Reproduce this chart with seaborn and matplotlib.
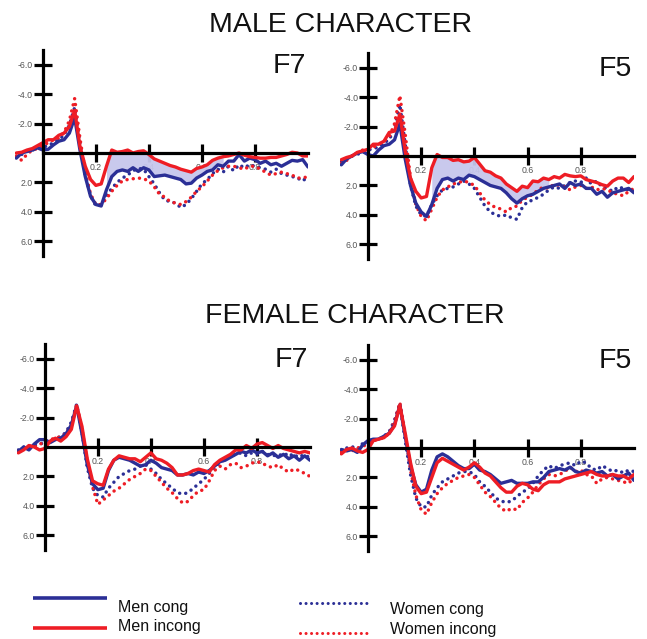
import numpy as np
import matplotlib
matplotlib.use("Agg")
import matplotlib.pyplot as plt
from matplotlib.lines import Line2D
import seaborn as sns

sns.set_theme(style="white")
plt.rcParams['font.family'] = ['Liberation Sans', 'DejaVu Sans']

# ---------------- data ----------------
TIME = np.round(np.arange(-0.10, 1.0001, 0.02), 2)   # seconds, 56 samples

Y_TICKS = [-6, -4, -2, 2, 4, 6]
Y_TICK_LABELS = ["-6.0", "-4.0", "-2.0", "2.0", "4.0", "6.0"]
X_TICKS = [0.2, 0.4, 0.6, 0.8]
X_TICK_LABELS = ["0.2", "0.4", "0.6", "0.8"]

SECTION_TITLES = ["MALE CHARACTER", "FEMALE CHARACTER"]
ELECTRODES = ["F7", "F5"]
SERIES_NAMES = ["Men cong", "Men incong", "Women cong", "Women incong"]
FILL_WINDOW = (0.24, 0.68)

# MALE CHARACTER, F7
M_F7_MEN_CONG = [0.35, 0.0, -0.1, -0.2, -0.35, -0.2, -0.25, -0.55, -0.8, -0.9, -1.35, -2.4, -0.2, 1.6,
                 2.95, 3.5, 3.6, 2.5, 1.6, 1.25, 1.15, 1.25, 1.0, 1.25, 1.0, 1.15, 1.6, 1.55, 1.5, 1.6,
                 1.7, 1.8, 2.1, 2.05, 1.7, 1.5, 1.25, 1.15, 0.8, 0.9, 0.55, 0.55, 0.1, 0.55, 0.35, 0.45,
                 0.7, 0.55, 0.8, 0.7, 0.9, 0.7, 0.5, 0.55, 0.45, 0.95]
M_F7_MEN_INCONG = [0.0, -0.05, -0.2, -0.3, -0.5, -0.7, -0.9, -0.9, -1.2, -1.35, -1.8, -2.9, -0.45, 0.9,
                   1.8, 2.2, 2.1, 0.9, -0.2, -0.05, -0.1, -0.2, 0.0, -0.1, -0.15, 0.1, 0.4, 0.55, 0.7,
                   0.85, 0.95, 1.1, 1.2, 1.3, 1.05, 0.95, 0.8, 0.5, 0.35, 0.25, 0.2, 0.1, 0.0, 0.15, 0.25,
                   0.3, 0.35, 0.35, 0.3, 0.3, 0.2, 0.1, -0.05, 0.0, 0.2, 0.2]
M_F7_WOMEN_CONG = [0.3, 0.1, -0.1, -0.2, -0.3, -0.4, -0.5, -0.7, -0.9, -1.2, -1.9, -3.1, -0.6, 1.5,
                   2.9, 3.6, 3.5, 2.9, 2.4, 2.0, 1.7, 1.5, 1.2, 1.05, 1.1, 1.6, 2.1, 2.7, 3.2, 3.3,
                   3.4, 3.7, 3.5, 3.1, 2.6, 2.1, 1.8, 1.4, 1.1, 1.3, 0.9, 1.2, 0.8, 1.0, 0.8, 0.9,
                   1.0, 1.1, 1.3, 1.1, 1.4, 1.5, 1.6, 1.7, 1.9, 1.6]
M_F7_WOMEN_INCONG = [0.2, 0.5, 0.1, -0.2, -0.3, -0.5, -0.7, -0.9, -1.0, -1.4, -2.2, -3.7, -1.0, 1.3,
                     2.8, 3.5, 3.5, 3.1, 2.6, 2.2, 1.9, 1.8, 1.75, 1.7, 1.75, 1.9, 2.3, 2.8, 3.0, 3.3,
                     3.4, 3.5, 3.3, 3.0, 2.6, 2.3, 1.9, 1.5, 1.2, 1.0, 0.9, 0.9, 1.0, 1.1, 0.9, 0.9,
                     1.1, 1.3, 1.5, 1.4, 1.3, 1.4, 1.5, 1.7, 1.7, 1.6]

# MALE CHARACTER, F5
M_F5_MEN_CONG = [0.6, 0.2, 0.0, -0.2, -0.3, -0.1, 0.0, -0.4, -0.7, -0.8, -1.1, -2.2, 0.2, 2.0,
                 3.2, 3.8, 4.1, 3.3, 2.2, 1.6, 1.5, 1.7, 1.5, 1.6, 1.3, 1.4, 1.6, 1.8, 2.0, 2.1,
                 2.2, 2.5, 2.9, 3.2, 2.9, 2.7, 2.6, 2.4, 2.2, 2.1, 2.0, 1.9, 2.2, 1.8, 2.0, 1.9,
                 2.2, 2.2, 2.6, 2.4, 2.8, 2.5, 2.4, 2.3, 2.2, 2.5]
M_F5_MEN_INCONG = [0.25, 0.1, 0.0, -0.25, -0.35, -0.45, -0.8, -0.8, -1.0, -1.6, -1.7, -2.85, -0.35, 1.5,
                   2.4, 2.85, 2.75, 0.8, -0.1, 0.1, 0.1, 0.3, 0.25, 0.4, 0.35, 0.1, 0.55, 1.0, 1.1,
                   1.35, 1.5, 1.9, 2.15, 2.4, 2.05, 2.15, 1.7, 1.75, 1.5, 1.6, 1.4, 1.5, 1.25, 1.35,
                   1.4, 1.35, 1.6, 1.7, 1.8, 1.95, 2.05, 1.7, 1.5, 1.5, 1.8, 1.4]
M_F5_WOMEN_CONG = [0.4, 0.2, 0.0, -0.1, -0.3, -0.4, -0.5, -0.6, -0.9, -1.1, -1.9, -3.5, -0.8, 2.0,
                   3.4, 4.0, 4.1, 3.3, 2.7, 2.3, 2.2, 2.1, 1.9, 1.7, 1.9, 2.2, 2.8, 3.4, 3.8, 4.0,
                   4.1, 4.0, 4.2, 4.3, 3.5, 3.1, 3.0, 2.8, 2.6, 2.3, 2.1, 2.2, 2.0, 1.8, 1.7, 1.8,
                   1.5, 1.9, 1.7, 2.1, 2.2, 2.4, 2.1, 2.2, 2.3, 2.4]
M_F5_WOMEN_INCONG = [0.5, 0.3, 0.0, -0.2, -0.4, -0.5, -0.6, -0.8, -1.0, -1.3, -2.2, -4.1, -1.5, 1.5,
                     3.3, 4.1, 4.4, 3.6, 2.8, 2.3, 2.1, 1.9, 1.8, 1.7, 1.8, 2.0, 2.5, 3.0, 3.3, 3.5,
                     3.6, 3.8, 3.5, 3.4, 3.0, 2.8, 2.6, 2.3, 2.1, 2.2, 1.9, 2.0, 2.1, 2.3, 2.1, 2.0,
                     2.2, 2.1, 2.3, 2.2, 2.3, 2.5, 2.6, 2.7, 2.4, 2.2]

# FEMALE CHARACTER, F7
F_F7_MEN_CONG = [0.3, 0.0, 0.2, -0.2, -0.5, -0.5, -0.3, -0.5, -0.6, -0.9, -1.5, -2.8, -0.9, 1.2,
                 2.5, 2.9, 2.8, 1.6, 0.9, 0.7, 0.8, 0.9, 1.1, 1.3, 1.2, 0.9, 1.1, 1.4, 1.5, 1.6,
                 1.9, 1.9, 1.8, 1.9, 1.7, 1.8, 1.6, 1.3, 1.0, 0.9, 0.7, 0.5, 0.3, 0.4, 0.2, 0.4,
                 0.3, 0.6, 0.4, 0.7, 0.5, 0.8, 0.6, 0.9, 0.6, 0.9]
F_F7_MEN_INCONG = [0.4, 0.2, -0.1, 0.0, 0.2, 0.1, -0.4, -0.6, -0.4, -0.7, -1.2, -2.8, -1.4, 0.8,
                   2.3, 2.5, 2.6, 1.5, 0.9, 0.6, 0.7, 0.8, 0.8, 1.0, 0.7, 0.4, 0.8, 0.9, 1.1, 1.4,
                   1.9, 1.9, 1.8, 1.6, 1.5, 1.6, 1.7, 1.2, 0.9, 0.7, 0.5, 0.2, 0.2, -0.1, 0.1, -0.2,
                   -0.3, -0.1, 0.1, -0.1, 0.1, 0.2, 0.3, 0.4, 0.3, 0.4]
F_F7_WOMEN_CONG = [0.2, 0.0, 0.1, -0.1, -0.2, -0.3, -0.4, -0.6, -0.7, -1.0, -1.7, -2.9, -1.0, 1.4,
                   2.8, 3.3, 3.4, 2.8, 2.4, 2.0, 1.8, 1.6, 1.5, 1.3, 1.2, 1.5, 1.8, 2.2, 2.5, 2.8,
                   3.1, 3.2, 3.1, 2.8, 2.5, 2.2, 1.8, 1.3, 1.1, 0.8, 0.6, 0.5, 0.4, 0.6, 0.4, 0.5,
                   0.3, 0.5, 0.6, 0.5, 0.6, 0.4, 0.7, 0.5, 0.7, 0.6]
F_F7_WOMEN_INCONG = [0.3, 0.1, -0.1, 0.0, -0.2, -0.3, -0.5, -0.6, -0.7, -0.9, -1.5, -2.9, -1.2, 1.0,
                     2.7, 3.9, 3.6, 3.3, 3.0, 2.8, 2.5, 2.2, 2.0, 1.8, 1.5, 1.6, 2.0, 2.4, 2.8, 3.1,
                     3.5, 3.8, 3.7, 3.3, 3.0, 2.9, 2.3, 1.6, 1.3, 1.5, 1.2, 1.1, 1.4, 1.3, 1.1, 1.0,
                     1.1, 1.3, 1.4, 1.2, 1.5, 1.7, 1.5, 1.6, 1.8, 2.0]

# FEMALE CHARACTER, F5
F_F5_MEN_CONG = [0.1, 0.2, 0.1, 0.3, -0.2, -0.5, -0.6, -0.6, -0.8, -1.0, -1.6, -2.9, -0.8, 1.2,
                 2.5, 3.0, 2.8, 1.5, 0.6, 0.4, 0.6, 0.9, 1.2, 1.4, 1.4, 1.1, 1.5, 1.6, 1.8, 2.1,
                 2.4, 2.3, 2.2, 2.4, 2.4, 2.4, 2.3, 2.3, 2.0, 1.6, 1.5, 1.4, 1.5, 1.3, 1.6, 1.7,
                 1.5, 1.6, 1.7, 1.6, 1.9, 1.8, 2.1, 1.9, 1.7, 2.2]
F_F5_MEN_INCONG = [0.4, 0.1, 0.0, 0.2, 0.3, 0.1, -0.5, -0.6, -0.7, -1.0, -1.5, -2.9, -1.0, 1.0,
                   2.6, 3.1, 3.0, 2.0, 1.0, 0.7, 0.9, 1.1, 1.3, 1.5, 1.3, 1.0, 1.3, 1.7, 1.9, 2.3,
                   2.7, 3.0, 3.0, 2.6, 2.4, 2.5, 2.8, 2.9, 2.5, 2.3, 2.3, 2.3, 2.1, 2.0, 1.9, 1.8,
                   1.7, 1.6, 1.8, 1.9, 1.9, 1.8, 1.9, 1.9, 2.1, 1.8]
F_F5_WOMEN_CONG = [0.2, 0.0, -0.1, 0.1, -0.3, -0.4, -0.5, -0.6, -0.8, -1.1, -1.9, -3.0, -0.5, 1.8,
                   3.4, 4.0, 4.0, 3.2, 2.7, 2.3, 2.1, 1.9, 1.7, 1.6, 1.6, 1.8, 2.3, 2.6, 3.0, 3.4,
                   3.6, 3.7, 3.6, 3.3, 3.0, 2.8, 2.4, 1.9, 1.5, 1.2, 1.4, 1.2, 1.1, 1.0, 1.2, 0.9,
                   1.0, 1.4, 1.5, 1.2, 1.4, 1.6, 1.5, 1.7, 1.5, 1.6]
F_F5_WOMEN_INCONG = [0.3, 0.1, 0.2, 0.0, -0.1, -0.3, -0.5, -0.6, -0.7, -1.0, -1.8, -3.1, -1.0, 1.5,
                     3.2, 4.2, 4.5, 3.7, 3.1, 2.7, 2.4, 2.2, 2.0, 1.9, 1.8, 2.0, 2.5, 3.0, 3.3, 3.7,
                     4.1, 4.3, 4.1, 4.2, 3.7, 3.4, 3.0, 2.5, 2.1, 1.8, 1.9, 1.8, 1.6, 1.3, 1.6, 1.5,
                     1.8, 1.9, 2.4, 2.1, 2.0, 2.1, 2.2, 2.3, 2.4, 2.0]

PANELS = [
    # (men cong, men incong, women cong, women incong, electrode, shaded)
    (M_F7_MEN_CONG, M_F7_MEN_INCONG, M_F7_WOMEN_CONG, M_F7_WOMEN_INCONG, ELECTRODES[0], True),
    (M_F5_MEN_CONG, M_F5_MEN_INCONG, M_F5_WOMEN_CONG, M_F5_WOMEN_INCONG, ELECTRODES[1], True),
    (F_F7_MEN_CONG, F_F7_MEN_INCONG, F_F7_WOMEN_CONG, F_F7_WOMEN_INCONG, ELECTRODES[0], False),
    (F_F5_MEN_CONG, F_F5_MEN_INCONG, F_F5_WOMEN_CONG, F_F5_WOMEN_INCONG, ELECTRODES[1], False),
]

# ---------------- style ----------------
BLUE = "#2b2f96"
RED = "#ee1d25"
FILL = "#c6c6ec"
GREY = "#555555"
SOLID_LW = 2.4
DOT_LW = 2.5
DOT_STYLE = (0, (0.01, 1.8))

W, H = 647, 639
fig = plt.figure(figsize=(W / 100, H / 100), dpi=100)

# axes rectangles in pixels: (left, top, width, height)
RECTS = [(15, 47, 293, 212), (340, 50, 294, 212), (17, 341, 293, 212), (340, 342, 294, 212)]

for (mc, mi, wc, wi, elec, shaded), (l, t, w, h) in zip(PANELS, RECTS):
    ax = fig.add_axes([l / W, 1 - (t + h) / H, w / W, h / H])
    ax.set_facecolor("none")
    mc = np.array(mc); mi = np.array(mi); wc = np.array(wc); wi = np.array(wi)
    if shaded:
        mask = (TIME >= FILL_WINDOW[0] - 1e-9) & (TIME <= FILL_WINDOW[1] + 1e-9)
        ax.fill_between(TIME, mc, mi, where=mask, color=FILL, alpha=0.95, lw=0, zorder=1)
    sns.lineplot(x=TIME, y=wc, ax=ax, color=BLUE, lw=DOT_LW, linestyle=DOT_STYLE,
                 dash_capstyle="round", legend=False, errorbar=None, zorder=2)
    sns.lineplot(x=TIME, y=wi, ax=ax, color=RED, lw=DOT_LW, linestyle=DOT_STYLE,
                 dash_capstyle="round", legend=False, errorbar=None, zorder=2)
    sns.lineplot(x=TIME, y=mc, ax=ax, color=BLUE, lw=SOLID_LW, legend=False,
                 errorbar=None, zorder=3)
    sns.lineplot(x=TIME, y=mi, ax=ax, color=RED, lw=SOLID_LW, legend=False,
                 errorbar=None, zorder=3)

    ax.set_xlim(-0.105, 1.0)
    ax.set_ylim(7.2, -7.2)
    ax.set_xlabel(""); ax.set_ylabel("")
    for side in ("top", "right"):
        ax.spines[side].set_visible(False)
    ax.spines["left"].set_position(("data", 0))
    ax.spines["bottom"].set_position(("data", 0))
    ax.spines["left"].set_bounds(-7, 7)
    ax.spines["bottom"].set_bounds(0, 1.0)
    for side in ("left", "bottom"):
        ax.spines[side].set_linewidth(2.3)
        ax.spines[side].set_color("black")
        ax.spines[side].set_zorder(4)
    ax.set_yticks(Y_TICKS)
    ax.set_yticklabels(Y_TICK_LABELS)
    ax.set_xticks(X_TICKS)
    ax.set_xticklabels(X_TICK_LABELS)
    ax.tick_params(axis="both", which="major", direction="inout", length=13.5, width=2.3,
                   color="black", left=True, bottom=True, pad=0.3, labelsize=6.3,
                   labelcolor=GREY)
    ax.grid(False)
    ax.text(0.993, 0.878, elec, transform=ax.transAxes, ha="right", va="baseline",
            fontsize=20.5, color="#111111")

# section titles
fig.text(341 / W, 1 - 32 / H, SECTION_TITLES[0], ha="center", va="baseline",
         fontsize=20.5, color="#111111")
fig.text(355 / W, 1 - 323 / H, SECTION_TITLES[1], ha="center", va="baseline",
         fontsize=20.5, color="#111111")

# legend (manual layout)
leg_items = [
    (SERIES_NAMES[0], BLUE, "-", 33, 107, 598, 118, 612),
    (SERIES_NAMES[1], RED, "-", 33, 107, 628, 118, 631),
    (SERIES_NAMES[2], BLUE, DOT_STYLE, 300, 368, 603, 390, 614),
    (SERIES_NAMES[3], RED, DOT_STYLE, 300, 368, 633, 390, 634),
]
for name, col, ls, x0, x1, yl, xt, yt in leg_items:
    ln = Line2D([x0 / W, x1 / W], [1 - yl / H, 1 - yl / H], transform=fig.transFigure,
                color=col, lw=2.6 if ls == "-" else 2.2, linestyle=ls,
                dash_capstyle="round", solid_capstyle="butt")
    fig.add_artist(ln)
    fig.text(xt / W, 1 - yt / H, name, ha="left", va="baseline", fontsize=11.5,
             color="#111111")

fig.savefig("out.png", dpi=100)
